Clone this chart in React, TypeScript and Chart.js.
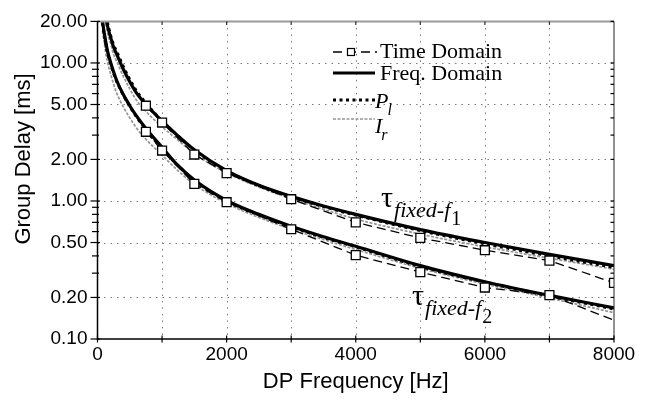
import React, { useEffect, useRef } from 'react';
import { Chart, registerables } from 'chart.js';

Chart.register(...registerables);

// ---------- data ----------
const MODEL_FREQS = [75, 100, 125, 150, 200, 250, 300, 400, 500, 600, 750, 1000, 1250, 1500, 2000, 2500, 3000, 3500, 4000, 5000, 6000, 7000, 8000];

const FREQ_DOMAIN_F1 = [40, 29, 22, 19, 15.5, 13, 11.5, 9.0, 7.3, 6.1, 5.0, 3.8, 2.95, 2.35, 1.66, 1.3, 1.08, 0.92, 0.8, 0.62, 0.5, 0.41, 0.34];
const P_L_F1 = [42, 30, 23, 20, 16, 13.5, 12, 9.4, 7.6, 6.3, 5.1, 3.8, 2.95, 2.33, 1.65, 1.29, 1.07, 0.91, 0.79, 0.61, 0.49, 0.4, 0.33];
const I_R_F1 = [35, 26, 20.5, 17, 14, 11.5, 10.2, 8.0, 6.5, 5.4, 4.45, 3.45, 2.75, 2.2, 1.6, 1.26, 1.04, 0.87, 0.74, 0.575, 0.465, 0.385, 0.32];

const FREQ_DOMAIN_F2 = [20.5, 17, 14.5, 12.5, 10.2, 8.6, 7.4, 5.9, 4.9, 4.15, 3.35, 2.45, 1.8, 1.42, 1.01, 0.8, 0.655, 0.55, 0.47, 0.34, 0.26, 0.207, 0.168];
const P_L_F2 = [19.5, 16.5, 14, 12.2, 9.9, 8.4, 7.3, 5.85, 4.85, 4.1, 3.3, 2.4, 1.8, 1.41, 1.0, 0.79, 0.65, 0.545, 0.465, 0.335, 0.258, 0.205, 0.165];
const I_R_F2 = [17, 14.5, 12, 10.4, 8.4, 7.0, 6.0, 4.8, 4.0, 3.4, 2.8, 2.15, 1.65, 1.32, 0.96, 0.76, 0.625, 0.525, 0.445, 0.325, 0.25, 0.198, 0.155];

const TIME_FREQS = [750, 1000, 1500, 2000, 3000, 4000, 5000, 6000, 7000, 8000];
const TIME_DOMAIN_F1 = [4.9, 3.7, 2.17, 1.59, 1.03, 0.7, 0.54, 0.44, 0.37, 0.255];
const TIME_DOMAIN_F2 = [3.17, 2.32, 1.33, 0.98, 0.624, 0.405, 0.305, 0.236, 0.208, 0.137];
const TIME_F2_MARKED = [true, true, true, true, true, true, true, true, true, false];

const Y_TICKS = [0.1, 0.2, 0.5, 1, 2, 5, 10, 20];
const X_MIN = 0;
const X_MAX = 8000;
const X_LABEL_STEP = 2000;
const X_GRID_STEP = 1000;

const X_TITLE = 'DP Frequency [Hz]';
const Y_TITLE = 'Group Delay [ms]';
const LEGEND_LABELS = ['Time Domain', 'Freq. Domain', 'P', 'I'];
const LEGEND_SUBS = ['', '', 'l', 'r'];
const CURVE_LABELS = [['τ', 'fixed-f', '1'], ['τ', 'fixed-f', '2']];

// ---------- styles ----------
const SANS = '"Liberation Sans", Arial, sans-serif';
const SERIF = '"Liberation Serif", "Times New Roman", serif';
const BLACK = '#000';
const GRAY_CURVE = '#959595';

const STYLE = {
  time: { borderColor: BLACK, borderWidth: 1.3, borderDash: [9, 5] },
  freq: { borderColor: BLACK, borderWidth: 3.2, borderDash: [] as number[] },
  pl: { borderColor: BLACK, borderWidth: 3, borderDash: [3, 3.5] },
  ir: { borderColor: GRAY_CURVE, borderWidth: 1.7, borderDash: [3, 1.5] },
};

const pts = (xs: number[], ys: number[]) => xs.map((x, i) => ({ x, y: ys[i] }));

function line(ctx: CanvasRenderingContext2D, x1: number, y1: number, x2: number, y2: number) {
  ctx.beginPath();
  ctx.moveTo(x1, y1);
  ctx.lineTo(x2, y2);
  ctx.stroke();
}

const overlay = {
  id: 'overlay',
  beforeDatasetsDraw(chart: any) {
    const { ctx, chartArea, scales } = chart;
    const { left, right, top, bottom } = chartArea;
    const x = scales.x;
    const y = scales.y;
    ctx.save();
    ctx.strokeStyle = '#7a7a7a';
    ctx.lineWidth = 1;
    ctx.setLineDash([1.5, 5]);
    for (const v of Y_TICKS) {
      if (v === Y_TICKS[0] || v === Y_TICKS[Y_TICKS.length - 1]) continue;
      const py = Math.round(y.getPixelForValue(v)) + 0.5;
      line(ctx, left, py, right, py);
    }
    for (let f = X_MIN + X_GRID_STEP; f < X_MAX; f += X_GRID_STEP) {
      const px = Math.round(x.getPixelForValue(f)) + 0.5;
      line(ctx, px, top, px, bottom);
    }
    ctx.restore();
  },
  afterDatasetsDraw(chart: any) {
    const { ctx, chartArea, scales } = chart;
    const { left, right, top, bottom } = chartArea;
    const x = scales.x;
    const y = scales.y;
    ctx.save();
    ctx.setLineDash([]);
    // top border (gray)
    ctx.strokeStyle = '#9a9a9a';
    ctx.lineWidth = 2;
    line(ctx, left, top, right, top);
    // right border
    ctx.strokeStyle = '#222';
    ctx.lineWidth = 1;
    line(ctx, right, top, right, bottom);
    // left & bottom axes
    ctx.strokeStyle = BLACK;
    ctx.lineWidth = 1.5;
    line(ctx, left, top, left, bottom + 0.75);
    line(ctx, left - 0.75, bottom, right, bottom);
    // y ticks: major and minor
    ctx.lineWidth = 1.2;
    const lo = Math.floor(Math.log10(Y_TICKS[0]));
    const hi = Math.ceil(Math.log10(Y_TICKS[Y_TICKS.length - 1]));
    for (let e = lo; e <= hi; e++) {
      for (let m = 1; m <= 9; m++) {
        const v = m * Math.pow(10, e);
        if (v < Y_TICKS[0] - 1e-9 || v > Y_TICKS[Y_TICKS.length - 1] + 1e-9) continue;
        const major = Y_TICKS.some((t) => Math.abs(t - v) < 1e-9);
        const py = y.getPixelForValue(v);
        if (major) line(ctx, left - 7, py, left + 2.5, py);
        else line(ctx, left - 5.5, py, left + 1.5, py);
        line(ctx, right - 3.5, py, right, py);
      }
    }
    // x ticks
    for (let f = X_MIN; f <= X_MAX; f += X_GRID_STEP) {
      const px = x.getPixelForValue(f);
      line(ctx, px, bottom - 3.5, px, bottom + 3.5);
      if (f > X_MIN && f < X_MAX) {
        ctx.strokeStyle = '#333';
        line(ctx, px, top, px, top + 3.5);
        ctx.strokeStyle = BLACK;
      }
    }
    ctx.restore();
  },
  afterDraw(chart: any) {
    const { ctx, chartArea } = chart;
    const { left, right } = chartArea;
    ctx.save();
    ctx.fillStyle = BLACK;
    // axis titles
    ctx.font = `22px ${SANS}`;
    ctx.textAlign = 'center';
    ctx.textBaseline = 'middle';
    ctx.fillText(X_TITLE, (left + right) / 2, 382);
    ctx.save();
    ctx.translate(24, 159);
    ctx.rotate(-Math.PI / 2);
    ctx.fillText(Y_TITLE, 0, 0);
    ctx.restore();

    // legend
    ctx.textAlign = 'left';
    ctx.textBaseline = 'alphabetic';
    const sx1 = 333;
    const sx2 = 377;
    const rows = [
      { style: STYLE.time, sy: 52, ty: 58, marker: true },
      { style: STYLE.freq, sy: 73, ty: 79.5, marker: false },
      { style: STYLE.pl, sy: 100, ty: 107.5, marker: false },
      { style: STYLE.ir, sy: 119, ty: 133, marker: false },
    ];
    rows.forEach((r, i) => {
      ctx.save();
      ctx.strokeStyle = r.style.borderColor;
      ctx.lineWidth = r.style.borderWidth;
      ctx.setLineDash(r.style.borderDash);
      line(ctx, sx1, r.sy, i === 0 ? sx2 : sx2 - 2, r.sy);
      ctx.restore();
      if (r.marker) {
        ctx.save();
        ctx.fillStyle = '#fff';
        ctx.strokeStyle = BLACK;
        ctx.lineWidth = 1.2;
        ctx.fillRect(347.5, r.sy - 3.5, 7, 7);
        ctx.strokeRect(347.5, r.sy - 3.5, 7, 7);
        ctx.restore();
      }
      const sub = LEGEND_SUBS[i];
      if (!sub) {
        ctx.font = `22px ${SERIF}`;
        ctx.fillText(LEGEND_LABELS[i], 380, r.ty);
      } else {
        ctx.font = `italic 22px ${SERIF}`;
        ctx.fillText(LEGEND_LABELS[i], 375, r.ty);
        const w = ctx.measureText(LEGEND_LABELS[i]).width;
        ctx.font = `italic 16px ${SERIF}`;
        ctx.fillText(sub, 375 + w - 1, r.ty + 7);
      }
    });

    // curve labels
    const anchors = [
      { x: 381, y: 207 },
      { x: 412, y: 305 },
    ];
    CURVE_LABELS.forEach((lab, i) => {
      const a = anchors[i];
      ctx.font = `30px ${SERIF}`;
      ctx.fillText(lab[0], a.x, a.y);
      const w0 = ctx.measureText(lab[0]).width;
      ctx.font = `italic 22px ${SERIF}`;
      ctx.fillText(lab[1], a.x + w0 + 1, a.y + 10);
      const w1 = ctx.measureText(lab[1]).width;
      ctx.font = `20px ${SERIF}`;
      ctx.fillText(lab[2], a.x + w0 + w1 + 2, a.y + 18);
    });
    ctx.restore();
  },
};

export default function App() {
  const ref = useRef<HTMLCanvasElement | null>(null);

  useEffect(() => {
    const canvas = ref.current;
    if (!canvas) return;
    const model = (data: number[], s: any) => ({
      data: pts(MODEL_FREQS, data),
      ...s,
      pointRadius: 0,
      cubicInterpolationMode: 'monotone',
      fill: false,
    });
    const time = (data: number[], marked: boolean[] | null) => ({
      data: pts(TIME_FREQS, data),
      ...STYLE.time,
      tension: 0,
      fill: false,
      pointStyle: 'rect',
      pointRadius: marked ? marked.map((m) => (m ? 6.3 : 0)) : 6.3,
      pointBackgroundColor: '#fff',
      pointBorderColor: BLACK,
      pointBorderWidth: 1.3,
    });
    const chart = new Chart(canvas, {
      type: 'line',
      data: {
        datasets: [
          { label: 'Time Domain f1', ...time(TIME_DOMAIN_F1, null) },
          { label: 'Time Domain f2', ...time(TIME_DOMAIN_F2, TIME_F2_MARKED) },
          { label: 'Freq. Domain f1', ...model(FREQ_DOMAIN_F1, STYLE.freq) },
          { label: 'Freq. Domain f2', ...model(FREQ_DOMAIN_F2, STYLE.freq) },
          { label: 'P_l f1', ...model(P_L_F1, STYLE.pl) },
          { label: 'P_l f2', ...model(P_L_F2, STYLE.pl) },
          { label: 'I_r f1', ...model(I_R_F1, STYLE.ir) },
          { label: 'I_r f2', ...model(I_R_F2, STYLE.ir) },
        ] as any,
      },
      options: {
        responsive: false,
        animation: false,
        devicePixelRatio: 1,
        layout: { padding: { left: 0, right: 36, top: 14, bottom: 0 } },
        plugins: { legend: { display: false }, tooltip: { enabled: false } },
        scales: {
          x: {
            type: 'linear',
            min: X_MIN,
            max: X_MAX,
            grid: { display: false, drawTicks: false },
            border: { display: false },
            ticks: {
              stepSize: X_LABEL_STEP,
              color: BLACK,
              padding: 4,
              maxRotation: 0,
              font: { family: SANS, size: 19 },
              callback: (v: any) => String(v),
            },
            afterFit: (s: any) => {
              s.height = 68;
            },
          },
          y: {
            type: 'logarithmic',
            min: Y_TICKS[0],
            max: Y_TICKS[Y_TICKS.length - 1],
            grid: { display: false, drawTicks: false },
            border: { display: false },
            afterBuildTicks: (s: any) => {
              s.ticks = Y_TICKS.map((v) => ({ value: v }));
            },
            ticks: {
              color: BLACK,
              padding: 10,
              font: { family: SANS, size: 19 },
              callback: (v: any) => Number(v).toFixed(2),
            },
            afterFit: (s: any) => {
              s.width = 97.5;
            },
          },
        },
      } as any,
      plugins: [overlay],
    });
    return () => chart.destroy();
  }, []);

  return (
    <div style={{ position: 'absolute', left: 0, top: 0, width: 650, height: 407, background: '#fff' }}>
      <canvas ref={ref} width={650} height={407} style={{ display: 'block' }} />
    </div>
  );
}
